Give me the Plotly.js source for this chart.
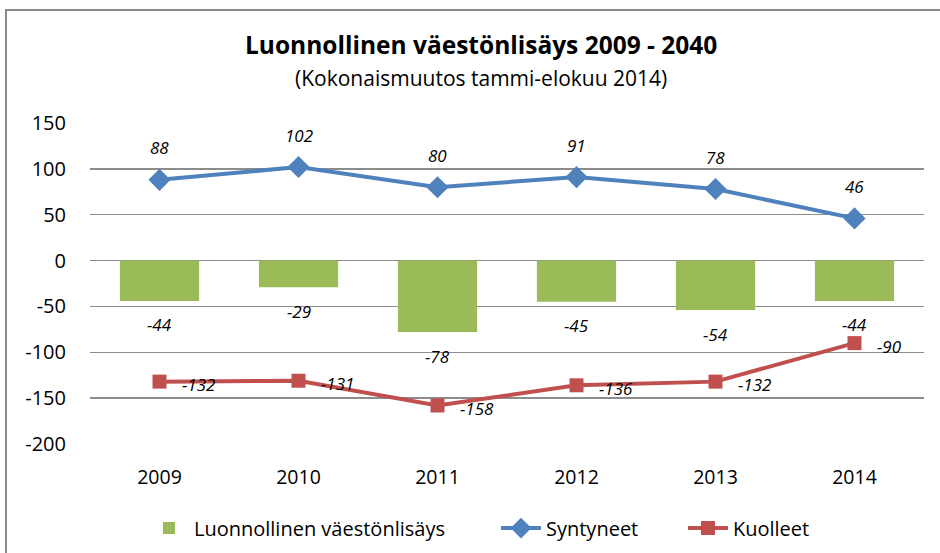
<!DOCTYPE html>
<html>
<head>
<meta charset="utf-8">
<script src="https://cdn.plot.ly/plotly-3.0.1.min.js"></script>
<style>html,body{margin:0;padding:0;background:#fff}#chart{width:940px;height:553px}</style>
</head>
<body>
<div id="chart"></div>
<script>
const years = ['2009', '2010', '2011', '2012', '2013', '2014'];
const lisays = [-44, -29, -78, -45, -54, -44];
const syntyneet = [88, 102, 80, 91, 78, 46];
const kuolleet = [-132, -131, -158, -136, -132, -90];
const yTicks = [-200, -150, -100, -50, 0, 50, 100, 150];

const FONT = '"Open Sans", Lato, sans-serif';
const GREEN = '#9BBB59', BLUE = '#4F81BD', RED = '#C0504D';

const traces = [
  {type: 'bar', name: 'Luonnollinen väestönlisäys', x: years, y: lisays,
   marker: {color: GREEN}, width: 0.57, legend: 'legend'},
  {type: 'scatter', mode: 'lines+markers', name: 'Syntyneet', x: years, y: syntyneet,
   line: {color: BLUE, width: 4}, marker: {symbol: 'diamond', size: 17, color: BLUE},
   legend: 'legend2'},
  {type: 'scatter', mode: 'lines+markers', name: 'Kuolleet', x: years, y: kuolleet,
   line: {color: RED, width: 4}, marker: {symbol: 'square', size: 14, color: RED},
   legend: 'legend3'}
];

const labelFont = {family: FONT, size: 17, color: '#000', style: 'italic'};
const ann = [];
years.forEach((yr, i) => {
  ann.push({x: i, y: lisays[i], text: String(lisays[i]), showarrow: false,
            yshift: -24, font: labelFont, xanchor: 'center', yanchor: 'middle'});
  ann.push({x: i, y: syntyneet[i], text: String(syntyneet[i]), showarrow: false,
            yshift: 32, font: labelFont, xanchor: 'center', yanchor: 'middle'});
  ann.push({x: i, y: kuolleet[i], text: String(kuolleet[i]), showarrow: false,
            xshift: 20, yshift: -3, font: labelFont, xanchor: 'left', yanchor: 'middle'});
});
ann.push({xref: 'paper', yref: 'paper', x: 0.469, y: 1.243, showarrow: false,
          text: '<b>Luonnollinen väestönlisäys 2009 - 2040</b>',
          font: {family: FONT, size: 24.5, color: '#000'}, xanchor: 'center', yanchor: 'middle'});
ann.push({xref: 'paper', yref: 'paper', x: 0.469, y: 1.140, showarrow: false,
          text: '(Kokonaismuutos tammi-elokuu 2014)',
          font: {family: FONT, size: 21, color: '#000'}, xanchor: 'center', yanchor: 'middle'});

const legBase = {orientation: 'h', yref: 'container', y: 0.045, xanchor: 'left', yanchor: 'middle',
                 font: {family: FONT, size: 20, color: '#000'}, itemwidth: 40,
                 bgcolor: 'rgba(0,0,0,0)'};

const layout = {
  width: 940, height: 553,
  margin: {l: 90, r: 16, t: 123, b: 109, autoexpand: false},
  paper_bgcolor: '#fff', plot_bgcolor: '#fff',
  font: {family: FONT, size: 20, color: '#000'},
  showlegend: true,
  legend: Object.assign({}, legBase, {x: 0.0647}),
  legend2: Object.assign({}, legBase, {x: 0.4868}),
  legend3: Object.assign({}, legBase, {x: 0.711}),
  xaxis: {type: 'category', range: [-0.5, 5.5], showgrid: false, zeroline: false,
          showline: false, ticks: '', tickfont: {family: FONT, size: 19.5},
          ticklabelstandoff: 19, automargin: false},
  yaxis: {range: [-200, 150], tickvals: yTicks, ticktext: yTicks.map(String),
          showgrid: true, gridcolor: '#8c8c8c',
          gridwidth: 1.5, zeroline: true, zerolinecolor: '#8c8c8c', zerolinewidth: 1.5,
          showline: false, ticks: '', tickfont: {family: FONT, size: 20},
          ticklabelstandoff: 23, automargin: false},
  annotations: ann,
  shapes: [{type: 'rect', xref: 'paper', yref: 'paper',
            x0: (6 - 90) / 834, x1: (960 - 90) / 834,
            y0: (444 - 580) / 321, y1: (444 - 10) / 321,
            line: {color: '#8a8a8a', width: 2}, fillcolor: 'rgba(0,0,0,0)', layer: 'below'}]
};

Plotly.newPlot('chart', traces, layout, {staticPlot: true, displayModeBar: false});
</script>
</body>
</html>
